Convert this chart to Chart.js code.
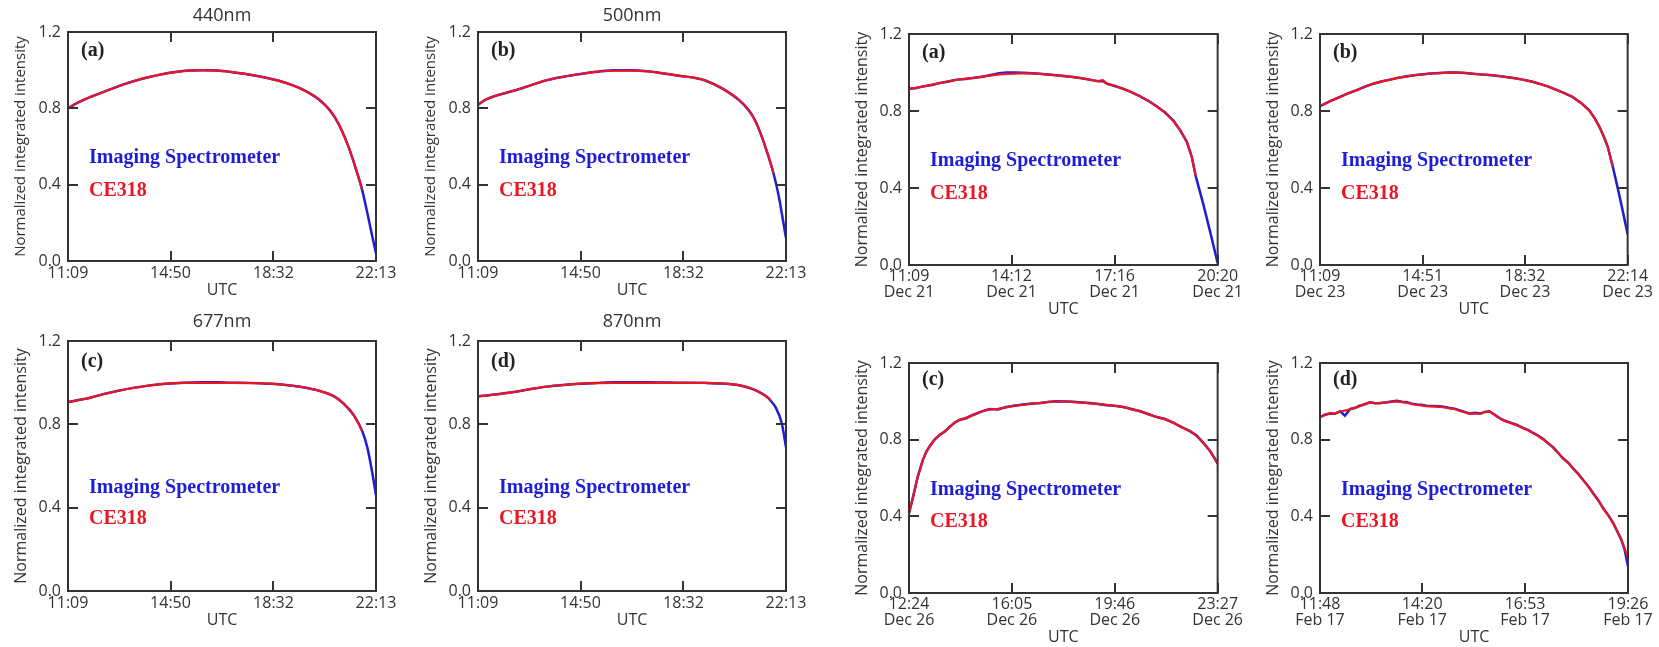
<!DOCTYPE html>
<html>
<head>
<meta charset="utf-8">
<title>Normalized integrated intensity: Imaging Spectrometer vs CE318</title>
<script src="https://cdn.jsdelivr.net/npm/chart.js@4.4.0/dist/chart.umd.min.js"></script>
<style>
  html, body { margin: 0; padding: 0; background: #ffffff; }
  body { width: 1659px; height: 647px; position: relative; overflow: hidden; }
  canvas { position: absolute; }
</style>
</head>
<body>
<script>
// ---------- shared axis values ----------
const yTickValues = [0, 0.4, 0.8, 1.2];
const seriesNames = ['Imaging Spectrometer', 'CE318'];

// ---------- wavelength panels (same day, 11:09 - 22:13 UTC) ----------
const wavelengthTicks = ['11:09', '14:50', '18:32', '22:13'];

const times440 = ['11:09','11:30','12:00','12:30','13:00','13:30','14:00','14:30','15:00','15:30','16:00','16:30','17:00','17:30','18:00','18:30','19:00','19:30','20:00','20:15','20:30','20:45','21:00','21:15','21:30','21:43','21:54','22:04','22:13'];
const imaging440 = [0.800,0.830,0.862,0.890,0.918,0.942,0.962,0.978,0.990,0.998,1.000,0.998,0.991,0.981,0.968,0.952,0.932,0.904,0.864,0.836,0.800,0.750,0.680,0.590,0.480,0.374,0.255,0.140,0.040];
const ce318_440 = [0.800,0.830,0.862,0.890,0.918,0.942,0.962,0.978,0.990,0.998,1.000,0.998,0.991,0.981,0.968,0.952,0.932,0.904,0.864,0.836,0.800,0.750,0.680,0.590,0.480,0.374];

const times500 = ['11:09','11:25','11:50','12:26','13:02','13:38','14:14','14:50','15:26','16:01','16:37','17:13','17:49','18:25','19:00','19:19','19:55','20:31','20:52','21:03','21:14','21:32','21:46','21:57','22:05','22:13'];
const imaging500 = [0.818,0.845,0.868,0.892,0.920,0.948,0.966,0.980,0.992,0.999,1.000,0.995,0.983,0.970,0.958,0.946,0.905,0.845,0.792,0.752,0.695,0.572,0.460,0.345,0.235,0.120];
const ce318_500 = [0.818,0.845,0.868,0.892,0.920,0.948,0.966,0.980,0.992,0.997,0.998,0.994,0.983,0.970,0.958,0.946,0.905,0.845,0.792,0.752,0.695,0.572,0.460];

const times677 = ['11:09','11:40','11:57','12:25','12:55','13:30','14:06','14:40','15:18','16:00','16:30','17:00','17:42','18:20','18:54','19:30','20:06','20:42','21:03','21:25','21:43','21:54','22:04','22:13'];
const imaging677 = [0.907,0.920,0.928,0.945,0.960,0.975,0.987,0.995,1.000,1.002,1.002,1.000,0.999,0.995,0.990,0.980,0.964,0.935,0.900,0.844,0.769,0.692,0.580,0.460];
const ce318_677 = [0.907,0.920,0.928,0.945,0.960,0.975,0.987,0.995,0.999,0.999,0.999,0.999,0.998,0.995,0.990,0.980,0.964,0.935,0.900,0.844,0.769];

const times870 = ['11:09','11:45','12:26','13:00','13:38','14:14','14:50','15:26','16:01','17:13','18:25','19:19','19:55','20:31','21:07','21:36','21:40','21:50','22:04','22:13'];
const imaging870 = [0.934,0.943,0.955,0.968,0.981,0.989,0.995,0.999,1.002,1.002,1.000,0.999,0.996,0.988,0.964,0.924,0.913,0.884,0.804,0.690];
const ce318_870 = [0.934,0.943,0.955,0.968,0.981,0.989,0.995,0.998,0.999,0.999,0.999,0.999,0.996,0.988,0.964,0.924,0.913];

// ---------- day panels ----------
const ticksDec21 = ['11:09', '14:12', '17:16', '20:20'];
const datesDec21 = ['Dec 21', 'Dec 21', 'Dec 21', 'Dec 21'];
const timesDec21 = ['11:09','11:20','11:34','11:50','12:04','12:20','12:34','12:50','13:03','13:20','13:33','13:50','14:03','14:18','14:33','14:48','15:02','15:17','15:32','15:47','16:02','16:17','16:32','16:47','16:55','17:02','17:16','17:31','17:46','18:01','18:16','18:31','18:46','19:01','19:13','19:25','19:34','19:41','19:54','20:06','20:20'];
const imagingDec21 = [0.916,0.918,0.928,0.935,0.946,0.953,0.963,0.966,0.972,0.978,0.986,0.996,1.000,1.000,0.999,0.996,0.994,0.990,0.986,0.981,0.977,0.970,0.963,0.954,0.956,0.942,0.930,0.916,0.898,0.877,0.853,0.825,0.792,0.750,0.700,0.640,0.560,0.460,0.320,0.180,0.010];
const ce318Dec21 = [0.916,0.920,0.927,0.937,0.944,0.955,0.961,0.968,0.971,0.979,0.984,0.990,0.993,0.994,0.996,0.995,0.993,0.990,0.985,0.982,0.976,0.971,0.962,0.955,0.960,0.942,0.931,0.915,0.899,0.876,0.854,0.824,0.793,0.749,0.701,0.640,0.560,0.460];

const ticksDec23 = ['11:09', '14:51', '18:32', '22:14'];
const datesDec23 = ['Dec 23', 'Dec 23', 'Dec 23', 'Dec 23'];
const timesDec23 = ['11:09','11:30','11:52','12:10','12:28','12:46','13:04','13:22','13:40','13:58','14:16','14:34','14:52','15:10','15:28','15:46','16:04','16:22','16:40','16:58','17:16','17:34','17:52','18:10','18:28','18:46','19:03','19:21','19:39','19:57','20:15','20:33','20:51','21:02','21:13','21:22','21:31','21:42','21:52','22:03','22:14'];
const imagingDec23 = [0.825,0.850,0.873,0.892,0.908,0.926,0.942,0.953,0.963,0.972,0.980,0.986,0.991,0.995,0.998,1.000,1.000,0.997,0.994,0.990,0.987,0.982,0.977,0.970,0.963,0.953,0.942,0.928,0.911,0.893,0.873,0.842,0.804,0.765,0.718,0.670,0.614,0.510,0.406,0.285,0.160];
const ce318Dec23 = [0.825,0.851,0.872,0.893,0.907,0.927,0.941,0.954,0.962,0.973,0.979,0.987,0.990,0.996,0.997,1.000,0.999,0.998,0.993,0.991,0.986,0.983,0.976,0.971,0.962,0.954,0.941,0.929,0.910,0.894,0.872,0.843,0.803,0.766,0.717,0.671,0.614,0.510];

const ticksDec26 = ['12:24', '16:05', '19:46', '23:27'];
const datesDec26 = ['Dec 26', 'Dec 26', 'Dec 26', 'Dec 26'];
const timesDec26 = ['12:24','12:33','12:43','12:54','13:01','13:08','13:19','13:30','13:40','13:51','14:02','14:13','14:27','14:42','15:00','15:17','15:35','15:53','16:11','16:29','16:47','17:05','17:23','17:41','17:59','18:17','18:35','18:52','19:10','19:28','19:46','20:04','20:22','20:40','20:58','21:16','21:34','21:52','22:10','22:28','22:42','22:56','23:04','23:11','23:20','23:27'];
const imagingDec26 = [0.417,0.504,0.609,0.696,0.735,0.765,0.800,0.826,0.840,0.866,0.888,0.904,0.912,0.930,0.946,0.960,0.958,0.970,0.977,0.983,0.987,0.991,0.996,1.000,0.999,0.998,0.994,0.991,0.986,0.980,0.977,0.970,0.960,0.948,0.934,0.918,0.908,0.887,0.866,0.843,0.822,0.783,0.762,0.739,0.705,0.675];
const ce318Dec26 = [0.417,0.504,0.609,0.696,0.738,0.763,0.802,0.824,0.843,0.864,0.890,0.902,0.915,0.928,0.948,0.958,0.961,0.968,0.979,0.981,0.989,0.990,0.997,0.999,1.000,0.996,0.995,0.989,0.987,0.982,0.976,0.971,0.958,0.950,0.932,0.919,0.906,0.889,0.864,0.845,0.818,0.785,0.760,0.741,0.703,0.675];

const ticksFeb17 = ['11:48', '14:20', '16:53', '19:26'];
const datesFeb17 = ['Feb 17', 'Feb 17', 'Feb 17', 'Feb 17'];
const timesFeb17 = ['11:48','11:55','12:03','12:10','12:18','12:25','12:33','12:40','12:47','12:55','13:02','13:10','13:17','13:25','13:32','13:42','13:50','13:57','14:05','14:12','14:19','14:26','14:36','14:46','14:54','15:01','15:08','15:16','15:23','15:31','15:38','15:46','15:53','16:00','16:08','16:15','16:22','16:30','16:40','16:50','16:58','17:05','17:12','17:20','17:28','17:35','17:42','17:49','17:57','18:04','18:12','18:19','18:27','18:34','18:42','18:49','18:57','19:04','19:10','19:16','19:21','19:26'];
const imagingFeb17 = [0.918,0.930,0.936,0.935,0.948,0.925,0.960,0.965,0.977,0.985,0.995,0.990,0.991,0.994,0.998,1.003,0.998,0.995,0.988,0.983,0.982,0.977,0.976,0.974,0.970,0.965,0.962,0.953,0.945,0.936,0.940,0.936,0.945,0.948,0.930,0.913,0.900,0.890,0.878,0.861,0.850,0.835,0.822,0.803,0.778,0.760,0.732,0.704,0.680,0.652,0.622,0.591,0.557,0.522,0.483,0.443,0.405,0.365,0.322,0.278,0.225,0.139];
const ce318Feb17 = [0.918,0.928,0.938,0.936,0.946,0.952,0.958,0.967,0.975,0.987,0.993,0.991,0.989,0.995,0.996,1.000,0.996,0.993,0.985,0.981,0.979,0.975,0.974,0.971,0.968,0.963,0.960,0.950,0.943,0.935,0.937,0.934,0.944,0.946,0.928,0.912,0.898,0.889,0.876,0.860,0.848,0.834,0.820,0.801,0.781,0.757,0.731,0.703,0.679,0.650,0.621,0.590,0.555,0.520,0.482,0.442,0.403,0.364,0.322,0.280,0.232,0.183];

// ---------- helpers ----------
function toMinutes(t) {
  const [h, m] = t.split(':').map(Number);
  return h * 60 + m;
}

function points(times, values) {
  return values.map((v, i) => ({ x: toMinutes(times[i]), y: v }));
}

const BLUE = 'rgb(30, 30, 215)';
const RED = 'rgb(235, 22, 36)';
const INK = '#333333';
const SANS = "'Open Sans', 'DejaVu Sans', sans-serif";
const SERIF = "'Liberation Serif', 'Times New Roman', serif";

// Box, inward tick marks on all four sides, panel letter, title and in-plot key.
const framePlugin = {
  id: 'frame',
  afterDraw(chart, args, opts) {
    const { ctx, chartArea: a, scales } = chart;
    const tickLen = 10;
    ctx.save();
    ctx.strokeStyle = INK;
    ctx.lineWidth = 2;
    ctx.beginPath();
    scales.x.ticks.forEach(t => {
      const px = Math.round(scales.x.getPixelForValue(t.value));
      ctx.moveTo(px, a.bottom); ctx.lineTo(px, a.bottom - tickLen);
      ctx.moveTo(px, a.top); ctx.lineTo(px, a.top + tickLen);
    });
    scales.y.ticks.forEach(t => {
      const py = Math.round(scales.y.getPixelForValue(t.value));
      ctx.moveTo(a.left, py); ctx.lineTo(a.left + tickLen, py);
      ctx.moveTo(a.right, py); ctx.lineTo(a.right - tickLen, py);
    });
    ctx.stroke();
    ctx.strokeRect(a.left, a.top, a.right - a.left, a.bottom - a.top);

    if (opts.title) {
      ctx.fillStyle = INK;
      ctx.font = '18px ' + SANS;
      ctx.textAlign = 'center';
      ctx.textBaseline = 'middle';
      ctx.fillText(opts.title, (a.left + a.right) / 2, a.top - opts.titleGap);
    }

    ctx.textAlign = 'left';
    ctx.textBaseline = 'alphabetic';
    ctx.font = 'bold 20px ' + SERIF;
    ctx.fillStyle = '#222222';
    ctx.fillText(opts.letter, a.left + 13, a.top + opts.letterY);

    const ds = chart.data.datasets;
    ctx.fillStyle = ds[0].borderColor;
    ctx.fillText(ds[0].label, a.left + 21, a.top + opts.keyY[0]);
    ctx.fillStyle = ds[1].borderColor;
    ctx.fillText(ds[1].label, a.left + 21, a.top + opts.keyY[1]);
    ctx.restore();
  }
};

function makePanel(p) {
  const L = 68, R = 28, T = 32;
  const B = p.dates ? 54 : 40;
  const canvas = document.createElement('canvas');
  canvas.width = L + p.w + R;
  canvas.height = T + p.h + B;
  canvas.style.left = (p.x - L) + 'px';
  canvas.style.top = (p.y - T) + 'px';
  document.body.appendChild(canvas);

  const smooth = !p.dates;
  new Chart(canvas, {
    type: 'line',
    data: {
      datasets: [
        {
          label: seriesNames[0],
          data: points(p.times, p.imaging),
          borderColor: BLUE,
          borderWidth: 2.5,
          pointRadius: 0,
          cubicInterpolationMode: smooth ? 'monotone' : 'default',
          tension: 0,
          order: 1
        },
        {
          label: seriesNames[1],
          data: points(p.times, p.ce318),
          borderColor: RED,
          borderWidth: 2.2,
          pointRadius: 0,
          cubicInterpolationMode: smooth ? 'monotone' : 'default',
          tension: 0,
          order: 0
        }
      ]
    },
    options: {
      responsive: false,
      animation: false,
      events: [],
      layout: { padding: { left: 0, top: T, right: R, bottom: 0 } },
      plugins: {
        legend: { display: false },
        tooltip: { enabled: false },
        frame: {
          title: p.title,
          titleGap: p.titleGap,
          letter: p.letter,
          letterY: p.letterY,
          keyY: p.keyY
        }
      },
      scales: {
        x: {
          type: 'linear',
          min: toMinutes(p.ticks[0]),
          max: toMinutes(p.ticks[p.ticks.length - 1]),
          afterBuildTicks: s => { s.ticks = p.ticks.map(t => ({ value: toMinutes(t) })); },
          afterFit: s => { s.height = B; },
          grid: { display: false, drawTicks: false },
          border: { display: false },
          ticks: {
            autoSkip: false,
            maxRotation: 0,
            padding: 3,
            color: INK,
            font: { family: SANS, size: 16, lineHeight: p.dates ? 1.0 : 1.2 },
            callback: (v, i) => p.dates ? [p.ticks[i], p.dates[i]] : p.ticks[i]
          },
          title: {
            display: true,
            text: 'UTC',
            color: INK,
            font: { family: SANS, size: 16, lineHeight: 1.2 },
            padding: { top: 0, bottom: p.dates ? 0 : 1.4 }
          }
        },
        y: {
          min: 0,
          max: 1.2,
          afterBuildTicks: s => { s.ticks = yTickValues.map(v => ({ value: v })); },
          afterFit: s => { s.width = L; },
          grid: { display: false, drawTicks: false },
          border: { display: false },
          ticks: {
            padding: 7,
            color: INK,
            font: { family: SANS, size: 16 },
            callback: v => v.toFixed(1)
          },
          title: {
            display: true,
            text: 'Normalized integrated intensity',
            color: INK,
            font: { family: SANS, size: p.yTitleSize, lineHeight: 1.2 },
            padding: { top: 21 - p.yTitleSize * 0.6, bottom: 0 }
          }
        }
      }
    },
    plugins: [framePlugin]
  });
}

// ---------- the eight panels ----------
const panels = [
  { x: 68,   y: 32,  w: 308, h: 229, title: '440nm', titleGap: 16, letter: '(a)', letterY: 24, keyY: [131, 164], yTitleSize: 15,
    ticks: wavelengthTicks, times: times440, imaging: imaging440, ce318: ce318_440 },
  { x: 478,  y: 32,  w: 308, h: 229, title: '500nm', titleGap: 16, letter: '(b)', letterY: 24, keyY: [131, 164], yTitleSize: 15,
    ticks: wavelengthTicks, times: times500, imaging: imaging500, ce318: ce318_500 },
  { x: 68,   y: 341, w: 308, h: 250, title: '677nm', titleGap: 19, letter: '(c)', letterY: 26, keyY: [152, 183], yTitleSize: 16,
    ticks: wavelengthTicks, times: times677, imaging: imaging677, ce318: ce318_677 },
  { x: 478,  y: 341, w: 308, h: 250, title: '870nm', titleGap: 19, letter: '(d)', letterY: 26, keyY: [152, 183], yTitleSize: 16,
    ticks: wavelengthTicks, times: times870, imaging: imaging870, ce318: ce318_870 },
  { x: 909,  y: 34,  w: 309, h: 231, title: '', letter: '(a)', letterY: 24, keyY: [132, 165], yTitleSize: 16,
    ticks: ticksDec21, dates: datesDec21, times: timesDec21, imaging: imagingDec21, ce318: ce318Dec21 },
  { x: 1320, y: 34,  w: 308, h: 231, title: '', letter: '(b)', letterY: 24, keyY: [132, 165], yTitleSize: 16,
    ticks: ticksDec23, dates: datesDec23, times: timesDec23, imaging: imagingDec23, ce318: ce318Dec23 },
  { x: 909,  y: 363, w: 309, h: 230, title: '', letter: '(c)', letterY: 22, keyY: [132, 164], yTitleSize: 16,
    ticks: ticksDec26, dates: datesDec26, times: timesDec26, imaging: imagingDec26, ce318: ce318Dec26 },
  { x: 1320, y: 363, w: 308, h: 230, title: '', letter: '(d)', letterY: 22, keyY: [132, 164], yTitleSize: 16,
    ticks: ticksFeb17, dates: datesFeb17, times: timesFeb17, imaging: imagingFeb17, ce318: ce318Feb17 }
];

panels.forEach(makePanel);
</script>
</body>
</html>
